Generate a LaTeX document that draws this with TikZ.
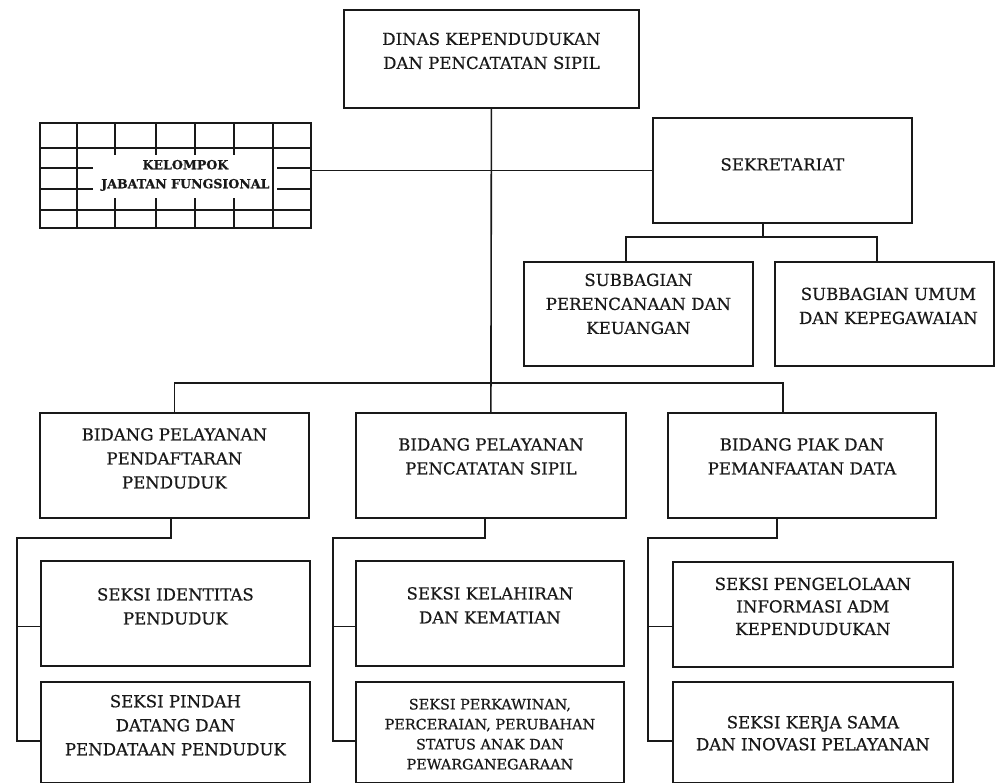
\documentclass[tikz,border=0pt]{standalone}
\usepackage{fontspec}
\setmainfont{DejaVu Serif}[FakeBold=0.6]
\usetikzlibrary{positioning}

\begin{document}
\begin{tikzpicture}[
  x=1pt, y=-1pt,
  font=\fontsize{16.6}{24}\selectfont,
  box/.style={draw=black!90, line width=1.8pt, inner sep=0pt, anchor=north west},
  txt/.style={align=center, inner sep=0pt, text=black!90},
  small/.style={txt, font=\fontsize{14.4}{20}\selectfont},
  link/.style={draw=black!90, line width=1.6pt},
  grid/.style={draw=black!90, line width=1.6pt}
]
\useasboundingbox (0,0) rectangle (995,782);

% kepala dinas dan sekretariat
\node[box, minimum width=295pt, minimum height=98pt] (dinas) at (343,9) {};
\node[txt] (dinast) at ([yshift=8pt]dinas.center) {DINAS KEPENDUDUKAN\\DAN PENCATATAN SIPIL};

\node[box, minimum width=271pt, minimum height=105pt] (kjf) at (39,122) {};
\begin{scope}[shift={(kjf.north west)}]
  \draw[grid] (38,0) -- (38,105) (234,0) -- (234,105) (0,26) -- (271,26) (0,88) -- (271,88);
  \foreach \gx in {76,117,156,195}
    \draw[grid] (\gx,0) -- (\gx,33) (\gx,76) -- (\gx,105);
  \foreach \gy in {46,67}
    \draw[grid] (0,\gy) -- (54,\gy) (238,\gy) -- (271,\gy);
\end{scope}
\node[txt, font=\bfseries\fontsize{12.6}{19}\selectfont] (kjft) at ([xshift=10pt]kjf.center) {KELOMPOK\\JABATAN FUNGSIONAL};

\node[box, minimum width=259pt, minimum height=105pt] (sek) at (652,117) {};
\node[txt] (sekt) at ([yshift=6pt]sek.center) {SEKRETARIAT};

\node[box, minimum width=229pt, minimum height=104pt] (sub1) at (523,261) {};
\node[txt] (sub1t) at ([yshift=10pt]sub1.center) {SUBBAGIAN\\PERENCANAAN DAN\\KEUANGAN};
\node[box, minimum width=219pt, minimum height=104pt] (sub2) at (774,261) {};
\node[txt] (sub2t) at ([xshift=4pt,yshift=8pt]sub2.center) {SUBBAGIAN UMUM\\DAN KEPEGAWAIAN};

% bidang
\node[box, minimum width=269pt, minimum height=105pt] (b1) at (39,412) {};
\node[txt] (b1t) at ([yshift=7pt]b1.center) {BIDANG PELAYANAN\\PENDAFTARAN\\PENDUDUK};
\node[box, minimum width=270pt, minimum height=105pt] (b2) at (355,412) {};
\node[txt] (b2t) at ([yshift=9pt]b2.center) {BIDANG PELAYANAN\\PENCATATAN SIPIL};
\node[box, minimum width=268pt, minimum height=105pt] (b3) at (667,412) {};
\node[txt] (b3t) at ([yshift=9pt]b3.center) {BIDANG PIAK DAN\\PEMANFAATAN DATA};

% seksi
\node[box, minimum width=269pt, minimum height=105pt] (l1) at (40,560) {};
\node[txt] (l1t) at ([yshift=7pt]l1.center) {SEKSI IDENTITAS\\PENDUDUK};
\node[box, minimum width=269pt, minimum height=101pt, below=14pt of l1] (l2) {};
\node[txt] (l2t) at ([yshift=7pt]l2.center) {SEKSI PINDAH\\DATANG DAN\\PENDATAAN PENDUDUK};

\node[box, minimum width=268pt, minimum height=105pt] (m1) at (355,560) {};
\node[txt] (m1t) at ([yshift=8pt]m1.center) {SEKSI KELAHIRAN\\DAN KEMATIAN};
\node[box, minimum width=268pt, minimum height=101pt, below=14pt of m1] (m2) {};
\node[small] (m2t) at ([yshift=-2pt]m2.center) {SEKSI PERKAWINAN,\\PERCERAIAN, PERUBAHAN\\STATUS ANAK DAN\\PEWARGANEGARAAN};

\node[box, minimum width=280pt, minimum height=105pt] (r1) at (672,561) {};
\node[txt, font=\fontsize{16.6}{22.5}\selectfont] (r1t) at ([yshift=8pt]r1.center) {SEKSI PENGELOLAAN\\INFORMASI ADM\\KEPENDUDUKAN};
\node[box, minimum width=280pt, minimum height=101pt, below=13pt of r1] (r2) {};
\node[txt, font=\fontsize{16.6}{22}\selectfont] (r2t) at ([yshift=-1pt]r2.center) {SEKSI KERJA SAMA\\DAN INOVASI PELAYANAN};

% garis
\coordinate (j3) at (783,383);
\coordinate (js) at (763,237);
\coordinate (ja) at (626,237);
\coordinate (jb) at (877,237);
\draw[link] (dinas.south) -- (b2.north);
\draw[link] (sek.west) -- (sek.west -| kjf.east);
\draw[link] (b1.north) |- (j3) -- (j3 |- b3.north);
\draw[link] (js |- sek.south) -- (js);
\draw[link] (ja |- sub1.north) -- (ja) -- (jb) -- (jb |- sub2.north);

\coordinate (ld) at (171,538); \coordinate (lb) at (17,538);
\coordinate (md) at (485,538); \coordinate (mb) at (333,538);
\coordinate (rd) at (777,538); \coordinate (rb) at (648,538);
\draw[link] ([yshift=-13pt]l1.west) -| (lb);
\draw[link] ([yshift=-8.5pt]l2.west) -| (lb) -- (ld) -- (ld |- b1.south);
\draw[link] ([yshift=-13pt]m1.west) -| (mb);
\draw[link] ([yshift=-8.5pt]m2.west) -| (mb) -- (md) -- (md |- b2.south);
\draw[link] ([yshift=-12pt]r1.west) -| (rb);
\draw[link] ([yshift=-8.5pt]r2.west) -| (rb) -- (rd) -- (rd |- b3.south);
\end{tikzpicture}
\end{document}
